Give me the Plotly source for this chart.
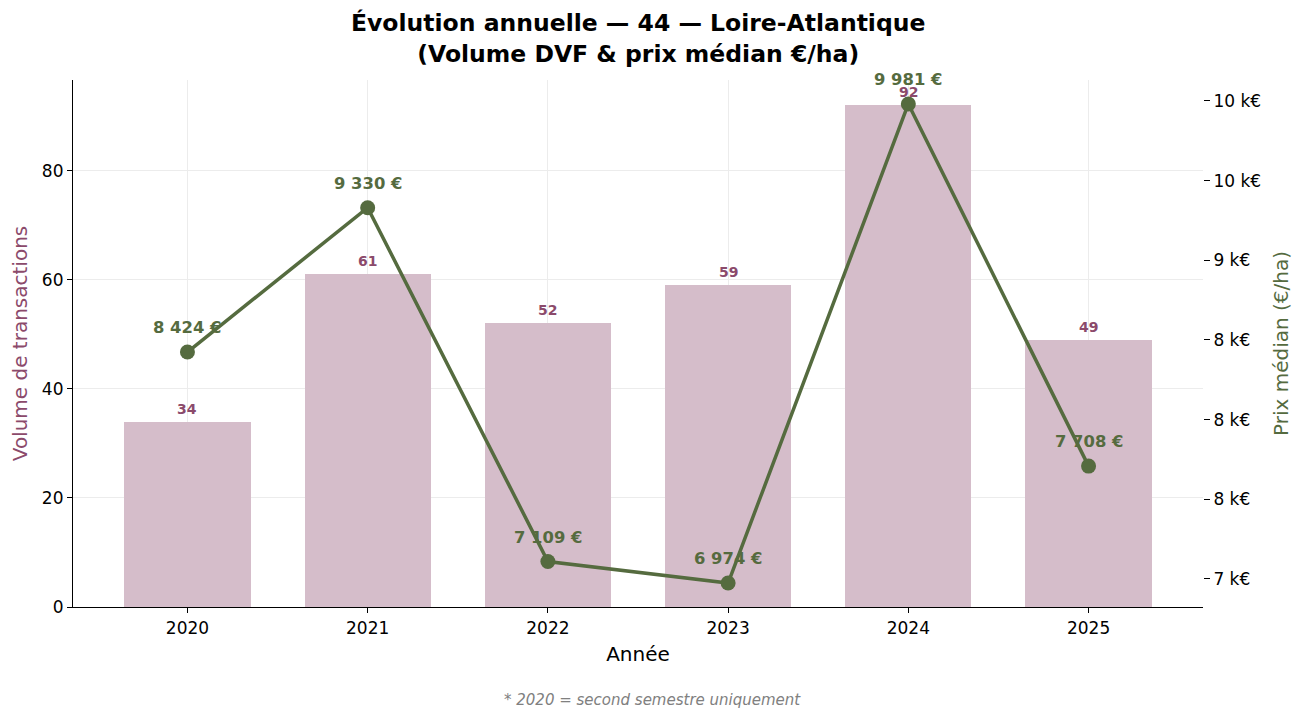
import plotly.graph_objects as go

years = ["2020", "2021", "2022", "2023", "2024", "2025"]
volumes = [34, 61, 52, 59, 92, 49]
prices = [8424, 9330, 7109, 6974, 9981, 7708]
price_labels = ["8 424 €", "9 330 €", "7 109 €", "6 974 €", "9 981 €", "7 708 €"]
left_ticks = [0, 20, 40, 60, 80]
right_ticks = [7000, 7500, 8000, 8500, 9000, 9500, 10000]
right_ticktext = ["7 k€", "8 k€", "8 k€", "8 k€", "9 k€", "10 k€", "10 k€"]

MAUVE = "#8b4a6b"
BAR = "#d5bdca"
GREEN = "#556b3f"
FONT = "DejaVu Sans"

x_idx = list(range(len(years)))

fig = go.Figure()
fig.add_trace(go.Bar(x=x_idx, y=volumes, width=0.7, marker=dict(color=BAR, line=dict(width=0)),
                     yaxis="y", showlegend=False, hoverinfo="skip"))
fig.add_trace(go.Scatter(x=x_idx, y=prices, yaxis="y2", mode="lines+markers",
                         line=dict(color=GREEN, width=3.5),
                         marker=dict(color=GREEN, size=15), showlegend=False))

annotations = []
for i, v in enumerate(volumes):
    annotations.append(dict(x=i, y=v, xref="x", yref="y", text=str(v), showarrow=False,
                            yanchor="bottom", yshift=3,
                            font=dict(family=FONT, size=14, color=MAUVE, weight="bold")))
for i, (p, t) in enumerate(zip(prices, price_labels)):
    annotations.append(dict(x=i, y=p, xref="x", yref="y2", text=t, showarrow=False,
                            yanchor="bottom", yshift=13,
                            font=dict(family=FONT, size=16.4, color=GREEN, weight="bold")))
annotations.append(dict(x=0.5124, y=-0.1765, xref="paper", yref="paper", yanchor="middle",
                        text="<i>* 2020 = second semestre uniquement</i>", showarrow=False,
                        font=dict(family=FONT, size=15, color="#808080")))
annotations.append(dict(x=0.5, y=1.0778, xref="paper", yref="paper", yanchor="middle",
                        xanchor="center", showarrow=False,
                        text="<b>Évolution annuelle — 44 — Loire-Atlantique<br>(Volume DVF & prix médian €/ha)</b>",
                        font=dict(family=FONT, size=23.5, color="black")))

vmax = max(volumes) * 1.05
pmin, pmax = min(prices), max(prices)
pm = (pmax - pmin) * 0.05
n = len(years)
xm = (n - 1 + 0.7) * 0.05

fig.update_layout(
    width=1304, height=719,
    margin=dict(l=73, r=101, t=80, b=112),
    paper_bgcolor="white", plot_bgcolor="white",
    font=dict(family=FONT, size=17, color="black"),
    xaxis=dict(range=[-0.35 - xm, n - 1 + 0.35 + xm], tickmode="array", tickvals=x_idx, ticktext=years,
               showline=True, linecolor="black", linewidth=1.2, ticks="outside", ticklen=5,
               tickcolor="black", showgrid=True, gridcolor="#ececec", gridwidth=1, zeroline=False,
               title=dict(text="Année", font=dict(family=FONT, size=20), standoff=10),
               tickfont=dict(family=FONT, size=17)),
    yaxis=dict(range=[0, vmax], tickmode="array", tickvals=left_ticks,
               showline=True, linecolor="black", linewidth=1.2, ticks="outside", ticklen=5,
               tickcolor="black", showgrid=True, gridcolor="#ececec", gridwidth=1, zeroline=False,
               title=dict(text="Volume de transactions", font=dict(family=FONT, size=20, color=MAUVE),
                          standoff=8),
               tickfont=dict(family=FONT, size=17)),
    yaxis2=dict(range=[pmin - pm, pmax + pm], overlaying="y", side="right", tickmode="array",
                tickvals=right_ticks, ticktext=right_ticktext, showline=False, ticks="outside",
                ticklen=6, tickcolor="black", showgrid=False, zeroline=False,
                title=dict(text="Prix médian (€/ha)", font=dict(family=FONT, size=20, color=GREEN),
                           standoff=13),
                tickfont=dict(family=FONT, size=17)),
    annotations=annotations,
    bargap=0,
)

fig.write_html("out.html")
